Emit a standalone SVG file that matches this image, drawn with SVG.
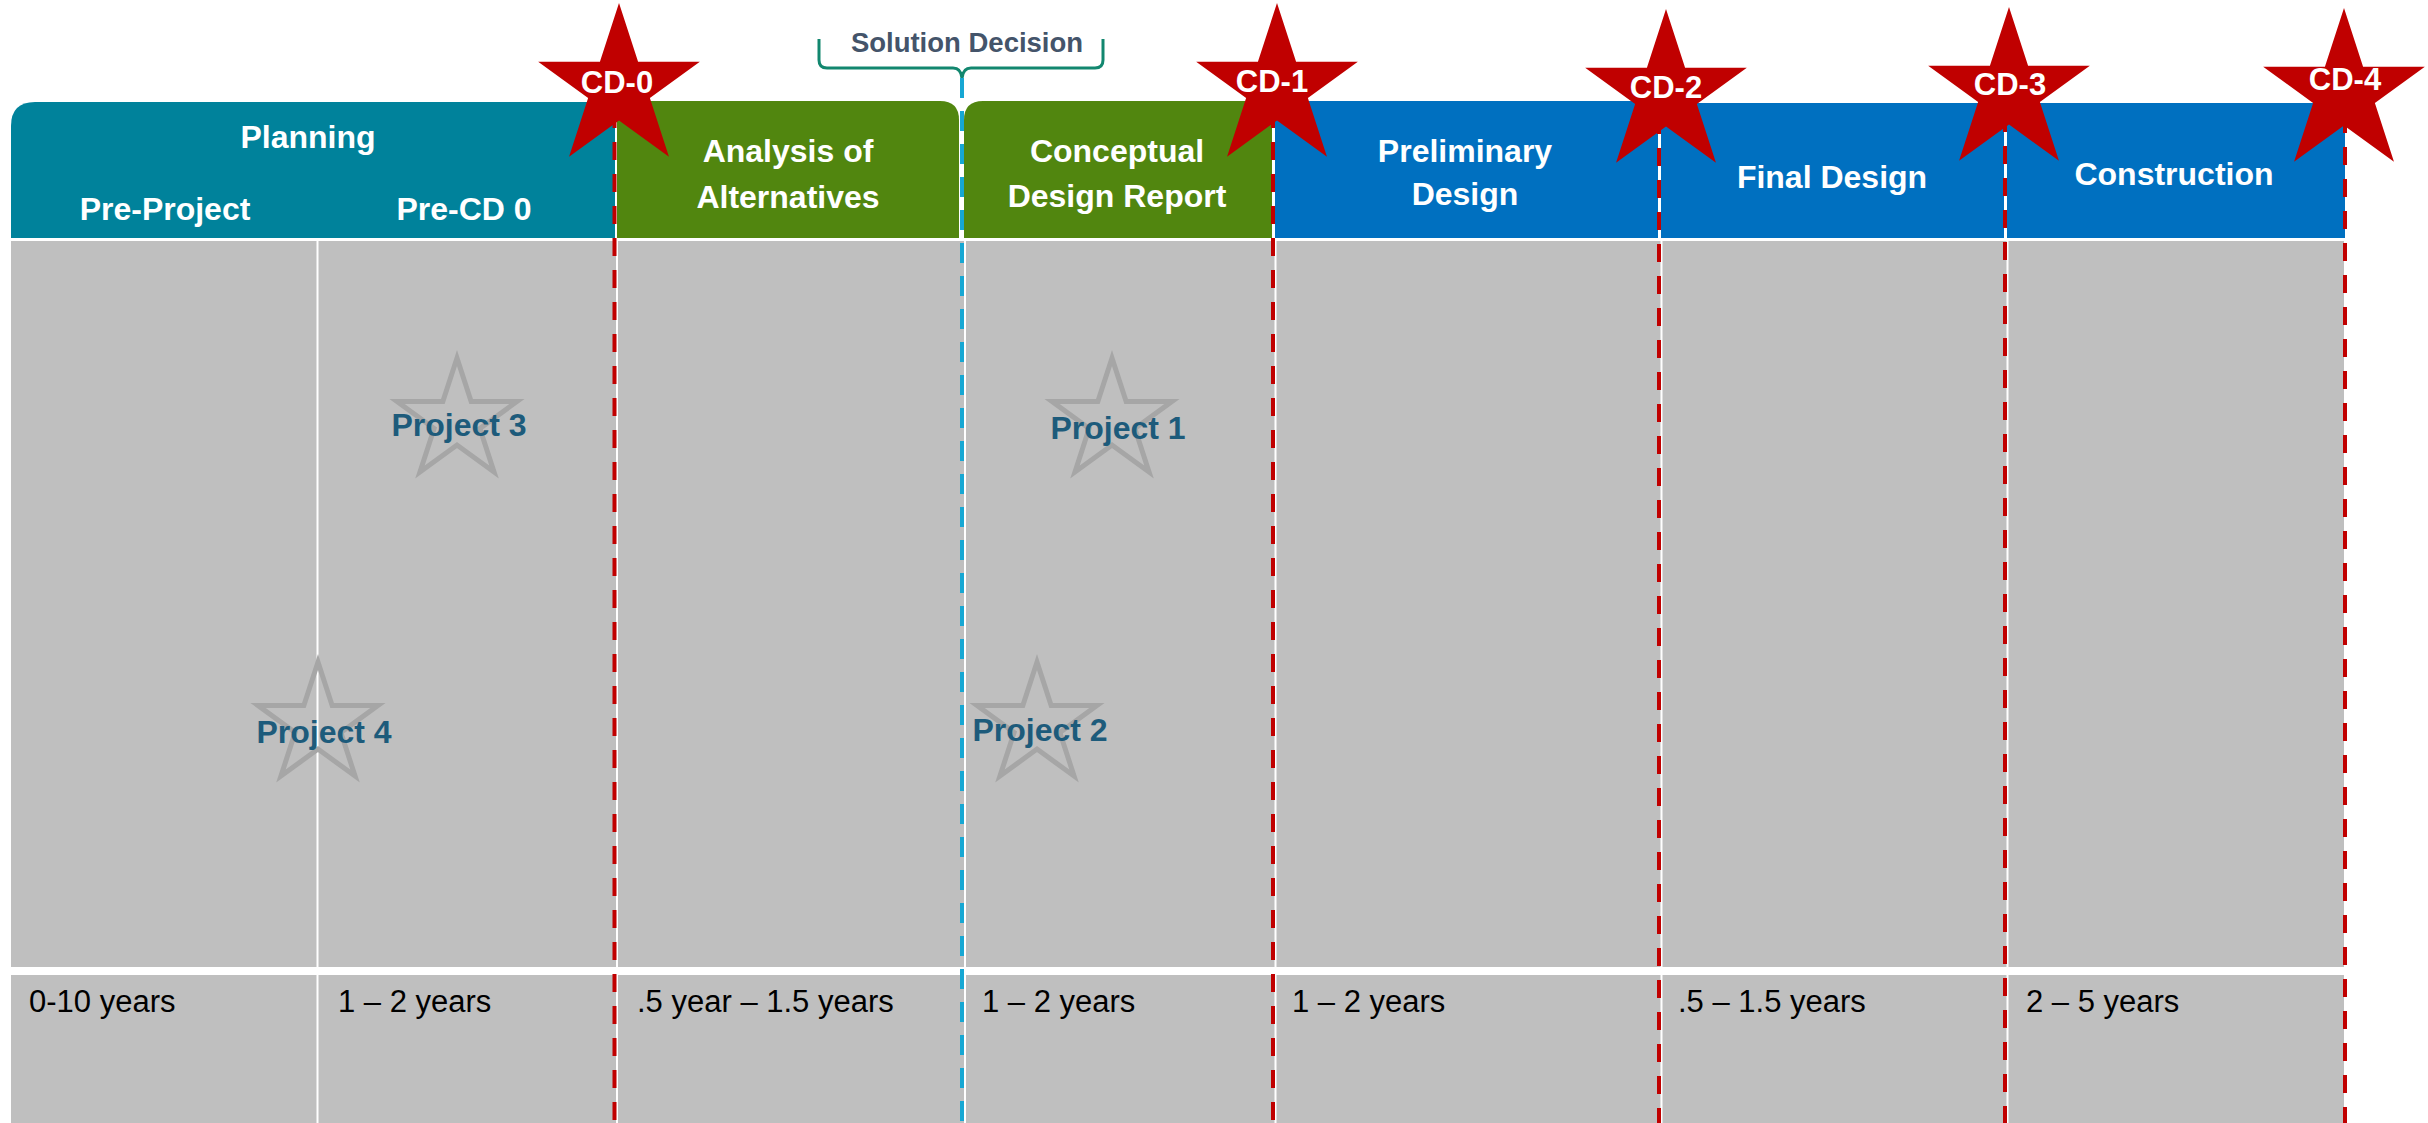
<svg xmlns="http://www.w3.org/2000/svg" xmlns:xlink="http://www.w3.org/1999/xlink" width="2428" height="1123" viewBox="0 0 2428 1123">
  <style>
    .hdr { font-family: "Liberation Sans", Arial, sans-serif; font-weight: bold; font-size: 32px; fill: #ffffff; text-anchor: middle; }
    .cd { font-family: "Liberation Sans", Arial, sans-serif; font-weight: bold; font-size: 31px; fill: #ffffff; text-anchor: middle; }
    .proj { font-family: "Liberation Sans", Arial, sans-serif; font-weight: bold; font-size: 32px; fill: #1D5B7B; text-anchor: middle; }
    .dur { font-family: "Liberation Sans", Arial, sans-serif; font-size: 31px; fill: #000000; }
    .sol { font-family: "Liberation Sans", Arial, sans-serif; font-weight: bold; font-size: 27.5px; fill: #44546A; text-anchor: middle; }
    .teal { fill: #00829B; }
    .green { fill: #51860F; }
    .blue { fill: #0070C0; }
    .grey { fill: #BFBFBF; }
    .sep { stroke: #ffffff; stroke-width: 2; }
    .red { stroke: #C00000; stroke-width: 4; stroke-dasharray: 18 14; fill: none; }
    .cyan { stroke: #17A7D3; stroke-width: 4; stroke-dasharray: 20 13; fill: none; }
    .pstar { fill: none; stroke: #A6A6A6; stroke-width: 5; }
    .mstar { fill: #C00000; }
  </style>
  <defs>
    <path id="bigStar" d="M0,-85 L19.09,-26.27 L80.84,-26.27 L30.88,10.03 L49.96,68.77 L0,32.47 L-49.96,68.77 L-30.88,10.03 L-80.84,-26.27 L-19.09,-26.27 Z"/>
    <path id="smallStar" d="M0,-63 L14.15,-19.47 L59.92,-19.47 L22.89,7.44 L37.03,50.97 L0,24.07 L-37.03,50.97 L-22.89,7.44 L-59.92,-19.47 L-14.15,-19.47 Z"/>
  </defs>

  <rect width="2428" height="1123" fill="#ffffff"/>

  <!-- body -->
  <g id="body">
    <rect class="grey" x="11" y="241" width="2333" height="726"/>
    <rect class="grey" x="11" y="975" width="2333" height="148"/>
    <line class="sep" x1="317.5" y1="241" x2="317.5" y2="1123" stroke-width="2.5"/>
    <line class="sep" x1="617" y1="241" x2="617" y2="1123"/>
    <line class="sep" x1="965" y1="241" x2="965" y2="1123"/>
    <line class="sep" x1="1275.5" y1="241" x2="1275.5" y2="1123"/>
    <line class="sep" x1="1661.5" y1="241" x2="1661.5" y2="1123"/>
    <line class="sep" x1="2007.5" y1="241" x2="2007.5" y2="1123"/>
  </g>

  <!-- phase headers -->
  <g id="phase-planning">
    <path class="teal" d="M11,126 Q11,102 35,102 L615,102 L615,238 L11,238 Z"/>
    <text class="hdr" x="308" y="148">Planning</text>
    <text class="hdr" x="165" y="220">Pre-Project</text>
    <text class="hdr" x="464" y="220">Pre-CD 0</text>
  </g>
  <g id="phase-aoa">
    <path class="green" d="M617,101 L940,101 Q959,101 959,120 L959,238 L617,238 Z"/>
    <text class="hdr" x="788" y="162">Analysis of</text>
    <text class="hdr" x="788" y="208">Alternatives</text>
  </g>
  <g id="phase-cdr">
    <path class="green" d="M964,238 L964,120 Q964,101 983,101 L1272,101 L1272,238 Z"/>
    <text class="hdr" x="1117" y="162">Conceptual</text>
    <text class="hdr" x="1117" y="207">Design Report</text>
  </g>
  <g id="phase-preliminary">
    <rect class="blue" x="1275" y="101" width="383" height="137"/>
    <text class="hdr" x="1465" y="162">Preliminary</text>
    <text class="hdr" x="1465" y="205">Design</text>
  </g>
  <g id="phase-final">
    <rect class="blue" x="1661" y="103" width="343" height="135"/>
    <text class="hdr" x="1832" y="188">Final Design</text>
  </g>
  <g id="phase-construction">
    <rect class="blue" x="2007" y="103" width="338" height="135"/>
    <text class="hdr" x="2174" y="185">Construction</text>
  </g>

  <!-- solution decision brace -->
  <g id="solution-decision">
    <text class="sol" x="967" y="52">Solution Decision</text>
    <path d="M819,39 L819,60 Q819,68 827,68 L953,68 Q961,68 962,78 Q963,68 971,68 L1095,68 Q1103,68 1103,60 L1103,39" fill="none" stroke="#12876F" stroke-width="3"/>
  </g>

  <!-- connectors: milestone lines -->
  <g id="connectors">
    <line class="cyan" x1="962" y1="78" x2="962" y2="1123"/>
    <line class="red" x1="614.5" y1="110" x2="614.5" y2="1123"/>
    <line class="red" x1="1273" y1="110" x2="1273" y2="1123"/>
    <line class="red" x1="1659" y1="116" x2="1659" y2="1123"/>
    <line class="red" x1="2005" y1="114" x2="2005" y2="1123"/>
    <line class="red" x1="2345" y1="115" x2="2345" y2="1123"/>
  </g>

  <!-- duration labels -->
  <g id="durations">
    <text class="dur" x="29" y="1012">0-10 years</text>
    <text class="dur" x="338" y="1012">1 – 2 years</text>
    <text class="dur" x="637" y="1012">.5 year – 1.5 years</text>
    <text class="dur" x="982" y="1012">1 – 2 years</text>
    <text class="dur" x="1292" y="1012">1 – 2 years</text>
    <text class="dur" x="1678" y="1012">.5 – 1.5 years</text>
    <text class="dur" x="2026" y="1012">2 – 5 years</text>
  </g>

  <!-- projects -->
  <g id="project-3">
    <use xlink:href="#smallStar" class="pstar" transform="translate(457,421)"/>
    <text class="proj" x="459" y="436">Project 3</text>
  </g>
  <g id="project-1">
    <use xlink:href="#smallStar" class="pstar" transform="translate(1112,421)"/>
    <text class="proj" x="1118" y="439">Project 1</text>
  </g>
  <g id="project-4">
    <use xlink:href="#smallStar" class="pstar" transform="translate(318,725)"/>
    <text class="proj" x="324" y="743">Project 4</text>
  </g>
  <g id="project-2">
    <use xlink:href="#smallStar" class="pstar" transform="translate(1037,725)"/>
    <text class="proj" x="1040" y="741">Project 2</text>
  </g>

  <!-- milestones -->
  <g id="cd-0">
    <use xlink:href="#bigStar" class="mstar" transform="translate(619,88)"/>
    <text class="cd" x="617" y="93">CD-0</text>
  </g>
  <g id="cd-1">
    <use xlink:href="#bigStar" class="mstar" transform="translate(1277,88)"/>
    <text class="cd" x="1272" y="92">CD-1</text>
  </g>
  <g id="cd-2">
    <use xlink:href="#bigStar" class="mstar" transform="translate(1666,94)"/>
    <text class="cd" x="1666" y="98">CD-2</text>
  </g>
  <g id="cd-3">
    <use xlink:href="#bigStar" class="mstar" transform="translate(2009,92)"/>
    <text class="cd" x="2010" y="95">CD-3</text>
  </g>
  <g id="cd-4">
    <use xlink:href="#bigStar" class="mstar" transform="translate(2344,93)"/>
    <text class="cd" x="2345" y="90">CD-4</text>
  </g>
</svg>
